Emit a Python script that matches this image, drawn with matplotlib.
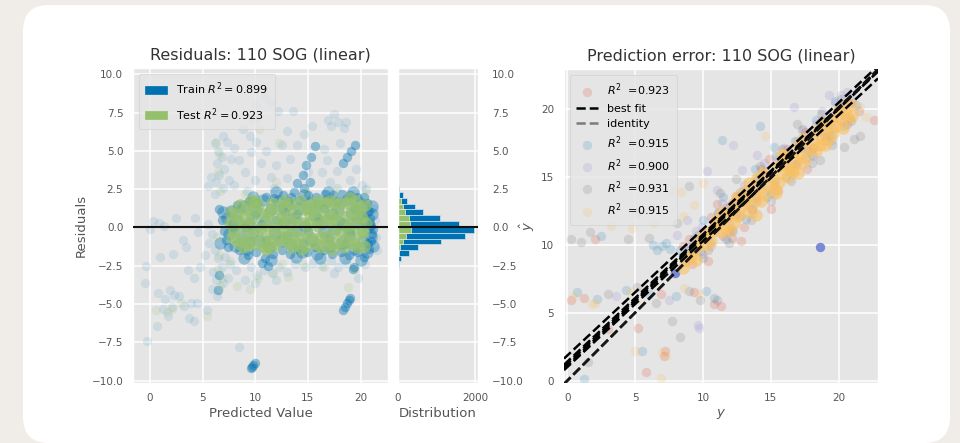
import matplotlib
matplotlib.use("Agg")
import matplotlib.pyplot as plt
from matplotlib.patches import FancyBboxPatch, Patch
from matplotlib.lines import Line2D

plt.style.use("ggplot")
plt.rcParams["font.family"] = ["DejaVu Sans"]

# ---- residuals plot data (predicted value, residual) ----
train_sparse = [
    (10.9, 8.6), (11.5, 8.1), (10.1, 8.0), (13.6, 7.6), (12.2, 7.6), (9.8, 7.0), (10.3, 7.2),
    (17.5, 7.4), (17.9, 6.9), (17.2, 6.6), (18.4, 6.5), (18.6, 6.9), (16.9, 7.0), (13.0, 6.3),
    (14.6, 6.1), (15.4, 6.6), (8.8, 6.4), (9.5, 6.0), (6.9, 6.0), (7.3, 5.6), (6.2, 5.5),
    (6.5, 5.0), (6.8, 4.6), (6.4, 4.2), (7.0, 3.8), (6.6, 3.4), (6.3, 3.0), (6.9, 2.6),
    (6.2, 2.2), (5.8, 3.3), (5.5, 2.7), (8.0, 5.2), (8.5, 4.4), (9.0, 3.6), (9.6, 4.9),
    (10.0, 3.1), (10.5, 4.2), (10.1, 5.6), (11.0, 5.0), (11.5, 3.3), (12.0, 4.1), (12.5, 5.4),
    (13.0, 3.2), (11.8, 2.6), (9.2, 2.4), (8.0, 2.8), (16.3, 3.6), (16.8, 4.4), (17.1, 3.0),
    (17.8, 3.7), (18.0, 5.5), (16.5, 5.1), (17.8, 2.6), (19.0, 3.1), (20.1, 2.8), (20.5, 2.5),
    (19.6, 3.8), (14.0, 5.4), (15.0, 3.6), (13.3, 4.5), (7.5, 3.1), (7.7, 4.5),
    (-0.3, -7.4), (-0.5, -3.6), (-0.4, -2.5), (0.0, -0.1), (0.3, 0.4), (0.9, 0.3), (1.3, 0.1),
    (2.5, 0.6), (3.1, -0.8), (4.3, 0.6), (4.6, -0.3), (0.8, -4.3), (1.4, -4.7), (1.9, -4.1),
    (2.3, -4.4), (2.1, -5.2), (1.7, -5.8), (0.7, -6.4), (1.2, -5.3), (3.2, -5.1), (3.7, -5.9),
    (4.2, -6.1), (3.9, -4.9), (4.5, -4.9), (5.4, -5.4), (2.8, -4.5), (4.2, -3.3), (4.8, -2.6),
    (3.6, -2.8), (5.2, -1.8), (5.6, -1.0), (5.9, -0.4), (5.5, 0.2), (2.2, -1.7), (1.0, -1.9),
    (3.4, -1.3), (6.2, -1.5), (6.5, -2.0), (6.8, -2.6), (6.3, -3.4), (6.9, -3.6), (6.0, -2.9),
    (7.1, -1.9), (6.4, -4.5), (5.9, -4.0), (7.4, -3.3), (7.6, -2.4), (8.5, -7.8), (8.2, -2.8),
    (9.0, -3.4), (9.6, -2.6), (10.2, -3.1), (10.8, -2.8), (11.6, -3.0), (12.3, -2.6),
    (13.0, -2.9), (13.8, -2.4), (14.7, -2.6), (15.5, -2.3), (16.3, -2.5), (17.2, -2.2),
    (17.9, -2.6), (18.6, -2.3), (19.8, -3.3), (20.4, -2.4), (10.0, -3.6), (12.0, -3.4),
    (17.5, -3.0), (21.3, 1.2), (21.5, -0.6), (21.4, 0.5), (21.6, -1.5),
]
train_dense = [
    (20.8, -1.4), (21.0, -0.9), (21.1, -0.4), (21.0, 0.1), (20.9, 0.6), (20.8, 1.1), (20.6, 1.6),
    (20.3, 2.0), (21.2, -0.1), (20.7, -1.0), (20.9, 0.3),
    (10.2, 1.6), (11.0, 2.0), (11.8, 1.9), (12.6, 2.1), (13.4, 2.0), (14.2, 1.8), (15.0, 2.1),
    (15.8, 2.0), (16.6, 2.2), (17.4, 2.1), (18.2, 2.2), (19.0, 2.1), (19.7, 2.0), (17.8, 1.7),
    (16.0, 1.5), (6.6, 1.2), (6.8, 0.5), (7.0, -0.2), (7.2, -0.8), (7.4, -1.3), (7.9, 0.0),
    (8.0, -0.1), (7.8, 0.2), (8.3, 1.5), (8.6, 1.2), (9.4, 1.7),
    (8.5, -1.5), (9.3, -1.8), (10.1, -1.6), (10.9, -2.0), (11.7, -1.7), (12.5, -1.5),
    (13.3, -1.7), (14.1, -1.4), (14.9, -1.6), (15.7, -1.3), (16.5, -1.5), (17.3, -1.7),
    (18.1, -1.6), (18.9, -1.8), (19.7, -1.6), (20.3, -1.9), (10.6, -2.3), (11.2, -2.5),
    (9.0, 0.0), (10.0, 0.8), (11.0, -0.8), (12.0, 0.5), (13.0, -0.5), (14.0, 0.9), (15.0, -0.2),
    (16.0, 0.6), (17.0, -0.7), (18.0, 0.4), (19.0, -0.3), (20.0, 0.8), (9.5, -0.9), (10.5, 0.2),
    (12.5, 1.2), (14.5, -1.0), (16.5, 1.3), (18.5, -1.1), (19.5, 1.2),
    (12.8, 1.0), (13.2, 1.7), (13.7, 2.3), (14.0, 2.9), (14.5, 3.4), (14.8, 4.1), (15.3, 4.6),
    (15.7, 5.3), (14.6, 2.6), (15.2, 3.0), (18.3, 4.2), (18.7, 4.6), (19.1, 5.0), (19.5, 5.4),
    (9.6, -9.2), (9.8, -9.0), (10.0, -8.85), (9.7, -9.1),
    (18.3, -5.4), (18.5, -5.2), (18.7, -4.95), (18.9, -4.75), (19.0, -4.6),
    (19.3, -2.7), (19.4, -2.6), (6.45, -4.1), (6.6, -3.1),
]
train_core = [
    (6.7, -1.0), (6.9, 1.0), (7.3, 0.6), (7.5, -0.4), (7.7, 1.1), (8.1, -1.2), (8.3, 0.5),
    (8.7, -0.6), (8.9, 1.4), (9.2, -1.4), (9.4, 0.3), (9.8, -0.3), (10.1, 1.1), (10.4, -0.9),
    (10.7, 1.8), (10.9, 0.4), (11.3, -1.3), (11.5, 1.2), (11.9, -0.4), (12.2, 1.7), (12.4, -0.9),
    (12.7, 0.3), (13.1, 1.5), (13.4, -1.1), (13.6, 0.6), (13.9, -0.2), (14.2, 1.3), (14.4, -1.6),
    (14.7, 0.1), (15.1, 1.6), (15.3, -0.8), (15.6, 0.8), (15.9, -1.7), (16.2, 0.3), (16.5, -0.3),
    (16.8, 1.7), (17.1, -1.2), (17.3, 0.9), (17.6, -0.1), (17.9, 1.3), (18.2, -1.0), (18.4, 0.2),
    (18.7, 1.8), (18.9, -0.5), (19.2, 0.9), (19.4, -1.4), (19.7, 0.3), (19.9, 1.6), (20.2, -0.9),
    (20.4, 0.4), (20.6, -1.6), (20.5, 1.0), (21.1, 0.9), (21.2, -1.2), (20.95, -0.6), (20.7, 0.0),
    (21.05, 1.4), (12.0, 2.3), (14.6, 2.1), (16.9, 2.3), (19.3, 2.3), (9.8, 2.0), (8.9, -2.0),
    (13.9, -1.9), (16.1, -2.0), (18.5, -2.0), (20.0, -2.1), (11.5, -2.1),
]
test_sparse = [
    (6.3, 5.6), (6.6, 4.8), (6.5, 3.6), (6.7, 2.4), (6.4, -0.6), (6.6, -1.8), (6.5, -2.7),
    (6.8, -3.3), (6.7, -3.8), (10.4, 6.4), (12.3, 5.5), (14.8, 2.4), (17.7, 2.4), (12.0, 3.0),
    (9.0, 2.2), (0.6, -5.4), (1.6, -5.5), (2.1, -5.3), (5.4, -5.8), (7.6, -2.2), (9.5, -4.0),
    (8.3, -3.8), (10.3, -3.3), (11.7, -3.0), (12.5, -2.4), (13.1, -3.2), (14.5, -2.4),
    (18.8, -3.9), (19.4, -2.7), (16.5, -2.6), (20.4, 2.3), (3.0, -4.9),
]
test_dense = [
    (7.6, 0.3), (7.8, -0.6), (8.2, 0.9), (8.4, -1.0), (8.8, 0.1), (9.1, 1.2), (9.3, -0.5),
    (9.7, 0.6), (10.0, -1.1), (10.3, 1.5), (10.5, 0.0), (10.9, -0.7), (11.2, 0.8), (11.6, 1.6),
    (11.8, -0.2), (12.1, -1.1), (12.4, 0.6), (12.8, 1.4), (13.0, -0.6), (13.3, 0.2), (13.7, 1.1),
    (14.0, -1.0), (14.3, 1.7), (14.5, 0.3), (14.9, -0.4), (15.2, 0.9), (15.5, 1.6), (15.8, -1.1),
    (16.0, 0.1), (16.4, 1.0), (16.7, -0.6), (17.0, 1.7), (17.2, 0.4), (17.6, -1.0), (17.9, 1.1),
    (18.1, -0.2), (18.5, 0.7), (18.8, 1.6), (19.0, -0.8), (19.3, 0.2), (19.6, 1.2), (19.9, -0.4),
    (20.1, 0.6), (20.3, -1.2), (20.4, 1.5), (9.6, 1.7), (13.5, -1.3), (16.2, -1.3), (18.4, -1.3),
    (11.0, -1.4), (8.9, -1.3), (12.6, -0.1), (15.0, 1.3), (17.5, 1.6), (19.5, 1.7),
    (7.7, 1.0), (8.0, -0.2), (8.3, 0.4), (8.6, 1.5), (8.7, -0.8), (9.0, 0.7), (9.4, -1.1),
    (9.5, 0.1), (9.9, 1.2), (10.2, -0.4), (10.6, 0.9), (10.8, -1.2), (11.1, 0.1), (11.4, 1.1),
    (11.6, -0.8), (12.0, 0.2), (12.2, 1.2), (12.5, -0.6), (12.9, 0.7), (13.2, -1.0), (13.4, 1.6),
    (13.6, -0.2), (13.9, 0.5), (14.2, -0.6), (14.6, 1.2), (14.8, -1.2), (15.1, 0.3), (15.4, -0.7),
    (15.7, 1.1), (15.9, 0.4), (16.2, -0.6), (16.5, 1.6), (16.6, 0.4), (16.9, -1.1), (17.1, 0.9),
    (17.4, -0.3), (17.7, 0.5), (18.0, 1.6), (18.2, -0.9), (18.6, 0.1), (18.9, -0.2), (19.1, 1.0),
    (19.4, -1.1), (19.7, 0.6), (20.0, 1.3), (20.2, -0.3), (20.5, 0.3), (10.0, 1.7), (12.7, 1.7),
    (16.0, 1.7), (19.0, 1.9), (11.4, -1.3), (14.4, -1.4), (17.3, -1.4), (19.8, -1.3),
]

# residual histogram (bin edges, counts)
hist_edges = [-2.97, -2.6, -2.22, -1.85, -1.47, -1.1, -0.72, -0.35, 0.05,
              0.42, 0.8, 1.18, 1.55, 1.93, 2.3, 2.68, 3.05]
train_counts = [10, 25, 80, 280, 530, 1120, 1730, 1980, 1590, 1080, 660, 430, 240, 130, 15, 12]
test_counts = [0, 0, 5, 17, 50, 120, 200, 330, 310, 280, 170, 120, 70, 35, 5, 0]

train_label = r"Train $R^2 = 0.899$"
test_label = r"Test $R^2 = 0.923$"

# ---- prediction error data (y, y_hat) per fold ----
fold_r2 = ["0.923", "0.915", "0.900", "0.931", "0.915"]
fold1 = [
    (8.5, 9.9), (9.2, 8.6), (10.1, 10.8), (10.8, 11.4), (11.5, 10.6), (12.0, 12.9), (12.7, 12.1),
    (13.3, 13.8), (14.0, 13.2), (14.6, 15.1), (15.2, 14.4), (15.9, 16.2), (16.5, 15.6),
    (17.1, 17.4), (17.8, 16.9), (18.4, 18.3), (19.0, 17.9), (19.6, 19.5), (20.2, 19.1),
    (20.9, 20.4), (21.5, 19.8), (17.7, 15.6), (13.0, 11.3), (11.0, 13.0), (5.2, 3.9), (0.3, 5.9),
    (1.2, 6.1), (7.1, 1.8), (5.8, 0.6), (7.2, 2.2), (6.9, 6.4), (9.3, 6.5), (10.8, 5.6),
    (2.0, 10.4), (12.8, 10.3), (15.0, 12.6), (22.6, 19.2), (11.3, 5.5), (3.0, 3.8),
    (9.0, 10.4), (9.9, 9.3), (10.6, 12.0), (11.9, 11.0), (12.4, 13.6), (13.6, 12.6), (14.3, 15.6),
    (15.5, 14.0), (16.2, 17.0), (16.9, 15.9), (17.5, 18.3), (18.1, 17.1), (18.8, 19.2),
    (19.3, 18.0), (20.0, 20.2), (20.6, 18.9), (14.9, 16.3), (12.1, 10.5), (10.4, 8.8), (13.8, 14.6),
]
fold2 = [
    (8.3, 9.6), (9.0, 9.8), (9.8, 9.5), (7.0, 9.9), (6.3, 10.0), (6.6, 9.6), (7.6, 9.7),
    (10.5, 10.2), (11.3, 11.9), (12.1, 11.1), (12.9, 13.2), (13.6, 12.6), (14.3, 14.6),
    (15.0, 13.8), (15.7, 15.9), (16.4, 15.3), (17.2, 17.1), (18.0, 16.6), (18.7, 18.6),
    (19.4, 18.1), (20.1, 19.9), (20.8, 19.3), (13.8, 15.6), (2.5, 10.6), (0.7, 6.5), (2.2, 6.0),
    (4.3, 6.7), (6.0, 6.4), (8.0, 6.2), (10.2, 6.6), (5.5, 2.2), (1.2, 0.1), (14.2, 18.7),
    (11.4, 17.7), (10.8, 6.1), (8.8, 9.4), (7.3, 10.1),
    (9.3, 10.5), (10.0, 9.0), (10.9, 11.6), (11.7, 10.4), (12.5, 12.9), (13.2, 11.9), (14.0, 14.9),
    (14.7, 13.5), (15.4, 16.5), (16.1, 15.0), (16.8, 17.6), (17.6, 16.4), (18.3, 19.2),
    (19.0, 17.6), (19.7, 20.6), (20.4, 18.7), (15.2, 17.2), (11.5, 13.5), (10.0, 11.8), (21.3, 20.3),
]
fold3 = [
    (9.5, 11.0), (10.3, 15.4), (12.9, 15.5), (11.1, 12.4), (11.9, 11.6), (12.6, 13.6),
    (13.4, 12.9), (14.1, 14.9), (14.8, 14.1), (15.5, 16.3), (16.2, 15.7), (16.9, 17.6),
    (17.6, 17.0), (18.3, 18.9), (19.0, 18.3), (19.7, 20.4), (20.4, 19.7), (20.6, 21.25),
    (19.3, 21.0), (16.7, 20.1), (8.8, 11.8), (5.2, 12.4), (9.6, 4.1), (8.1, 10.7), (3.6, 6.2),
    (7.5, 5.9), (12.2, 17.3), (10.9, 10.9), (9.7, 3.9),
    (9.1, 9.2), (9.9, 11.3), (10.6, 9.9), (11.4, 13.1), (12.2, 11.0), (13.0, 14.4), (13.7, 12.3),
    (14.5, 16.0), (15.2, 13.7), (16.0, 17.1), (16.7, 15.2), (17.4, 18.5), (18.1, 16.5),
    (18.8, 19.8), (19.5, 17.7), (20.2, 21.0), (21.0, 20.8), (14.0, 16.6), (11.0, 14.0), (13.9, 14.1),
]
fold3_dense = [(18.65, 9.85), (7.93, 7.9)]
fold4 = [
    (1.0, 10.2), (1.7, 10.9), (4.5, 10.4), (6.0, 10.5), (8.1, 11.6), (9.0, 14.3), (11.25, 13.8),
    (11.7, 12.7), (12.4, 12.2), (13.2, 14.0), (13.9, 13.4), (14.6, 15.4), (15.3, 14.7),
    (16.0, 16.5), (16.8, 15.9), (17.5, 17.8), (18.2, 17.2), (18.9, 19.0), (19.6, 18.6),
    (20.3, 20.2), (21.1, 17.8), (20.4, 17.2), (18.6, 16.2), (7.7, 4.4), (8.3, 3.2), (1.5, 1.4),
    (3.0, 6.4), (5.1, 6.9), (9.8, 5.9), (11.0, 5.9), (6.5, 5.7), (9.0, 6.6), (0.3, 10.4),
    (8.7, 8.7), (9.6, 10.7), (10.4, 9.6), (11.1, 12.3), (11.9, 10.1), (12.7, 13.9), (13.5, 11.8),
    (14.2, 15.8), (15.0, 13.2), (15.8, 17.0), (16.5, 14.7), (17.3, 18.4), (18.0, 16.0),
    (18.7, 19.6), (19.5, 17.3), (20.2, 20.7), (20.9, 19.1), (21.6, 18.0), (12.4, 14.8), (16.9, 18.9),
]
fold5 = [
    (0.5, 6.2), (1.8, 5.6), (4.8, 11.2), (3.2, 11.4), (6.4, 11.6), (7.0, 2.1), (7.3, 1.8),
    (5.0, 2.2), (8.5, 12.1), (10.0, 14.5), (14.6, 18.0), (22.0, 19.4), (21.6, 20.1), (9.7, 6.4),
    (7.8, 13.9), (8.4, 13.9), (9.3, 12.9), (6.9, 0.2), (2.0, 5.7), (4.6, 6.5), (8.6, 6.8),
]
fold5_dense = [
    (8.8, 8.9), (9.3, 9.6), (9.8, 10.4), (10.3, 10.0), (10.8, 11.2), (11.3, 10.9), (11.8, 12.0),
    (12.3, 11.6), (12.8, 12.8), (13.3, 12.4), (13.8, 13.6), (14.3, 13.2), (14.8, 14.4),
    (15.3, 14.1), (15.8, 15.3), (16.3, 15.0), (16.8, 16.2), (17.3, 16.0), (17.8, 17.0),
    (18.3, 16.9), (18.8, 17.8), (19.3, 17.8), (19.8, 18.7), (20.3, 18.6), (20.7, 19.3),
    (13.0, 13.9), (14.0, 14.9), (12.5, 13.5), (11.0, 11.8), (10.5, 10.9), (15.5, 15.8),
    (17.0, 17.3), (18.5, 18.4), (19.5, 19.2), (20.0, 19.9), (16.0, 16.6), (9.5, 8.9),
    (12.0, 11.1), (16.5, 15.6), (21.0, 19.5),
    (8.5, 8.3), (9.1, 9.1), (9.6, 9.9), (10.1, 10.6), (10.6, 10.3), (11.1, 11.6), (11.6, 11.2),
    (12.1, 12.4), (12.6, 12.1), (13.1, 13.3), (13.6, 12.9), (14.1, 14.1), (14.6, 13.7),
    (15.1, 14.9), (15.6, 14.6), (16.1, 15.8), (16.6, 15.4), (17.1, 16.7), (17.6, 16.4),
    (18.1, 17.6), (18.6, 17.3), (19.1, 18.5), (19.6, 18.2), (20.1, 19.3), (20.5, 19.8),
    (20.9, 20.3), (14.4, 15.3), (13.4, 14.5), (12.3, 13.1), (11.4, 12.4), (15.8, 16.6),
    (17.4, 17.8), (18.9, 18.9), (13.9, 12.2), (15.4, 13.8), (17.0, 15.3), (19.0, 17.3),
]
# best fit lines per fold (intercept, slope)
fit_lines = [(1.85, 0.93), (1.0, 0.927), (1.25, 0.94), (1.4, 0.935), (1.1, 0.945)]

train_color = "#0072B2"
test_color = "#94c06c"
fold_colors = ["#E24A33", "#348ABD", "#988ED5", "#777777", "#FBC15E"]
msize = 46
core_size = 80


def xy(points):
    return [p[0] for p in points], [p[1] for p in points]


fig = plt.figure(figsize=(9.6, 4.43), dpi=100, facecolor="#f0ede9")
card = FancyBboxPatch((23, 0), 927, 438, boxstyle="round,pad=0,rounding_size=26",
                      transform=None, facecolor="white", edgecolor="none", zorder=0)
fig.add_artist(card)

bottom = (443 - 383.3) / 443
height = 315 / 443
ax = fig.add_axes([133 / 960, bottom, 255 / 960, height])
hax = fig.add_axes([398 / 960, bottom, 80 / 960, height])
pax = fig.add_axes([564 / 960, bottom, 314 / 960, 314 / 443])

for a in (ax, hax, pax):
    a.tick_params(length=0, pad=7, labelsize=7.5, colors="#555555")
    a.grid(True, color="white", linewidth=1.1)
    a.set_axisbelow(True)

# residuals scatter
x, y = xy(train_sparse)
ax.scatter(x, y, s=msize, color=train_color, alpha=0.1, linewidths=0)
x, y = xy(train_dense)
ax.scatter(x, y, s=msize, color=train_color, alpha=0.4, linewidths=0)
x, y = xy(train_core)
ax.scatter(x, y, s=core_size, color=train_color, alpha=0.35, linewidths=0)
x, y = xy(test_sparse)
ax.scatter(x, y, s=msize, color=test_color, alpha=0.15, linewidths=0)
x, y = xy(test_dense)
ax.scatter(x, y, s=core_size, color=test_color, alpha=0.7, linewidths=0)
ax.axhline(0, color="#111111", linewidth=1.5, zorder=3)
ax.set_xlim(-1.6, 22.6)
ax.set_ylim(-10.17, 10.39)
ax.set_xticks([0, 5, 10, 15, 20])
ax.set_yticks([-10, -7.5, -5, -2.5, 0, 2.5, 5, 7.5, 10])
ax.set_xlabel("Predicted Value", fontsize=9.5, color="#555555", labelpad=3)
ax.set_ylabel("Residuals", fontsize=9.5, color="#555555", labelpad=3)
ax.set_title("Residuals: 110 SOG (linear)", fontsize=11.5, color="#333333", pad=6)
ax.legend(handles=[Patch(color=train_color, label=train_label),
                   Patch(color=test_color, label=test_label)],
          loc="upper left", fontsize=8, borderpad=0.6, labelspacing=0.8)

# histogram
widths = [hist_edges[i + 1] - hist_edges[i] for i in range(len(hist_edges) - 1)]
hax.barh(hist_edges[:-1], train_counts, height=widths, align="edge", color=train_color,
         edgecolor="#cfe3f0", linewidth=0.5)
hax.barh(hist_edges[:-1], test_counts, height=widths, align="edge", color=test_color,
         edgecolor="#e8f0df", linewidth=0.5)
hax.axhline(0, color="#111111", linewidth=1.5, zorder=3)
hax.set_ylim(ax.get_ylim())
hax.set_xlim(0, 2080)
hax.set_xticks([0, 2000])
hax.set_yticks(ax.get_yticks())
hax.yaxis.tick_right()
hax.tick_params(axis="y", pad=10)
hax.set_xlabel("Distribution", fontsize=9.5, color="#555555", labelpad=3)

# prediction error
folds = [fold1, fold2, fold3, fold4, fold5]
handles = []
for i, pts in enumerate(folds):
    x, y = xy(pts)
    h = pax.scatter(x, y, s=msize, color=fold_colors[i], alpha=0.2, linewidths=0,
                    label=r"$R^2$  =" + fold_r2[i])
    handles.append(h)
x, y = xy(fold3_dense)
pax.scatter(x, y, s=msize, color="#6d7fd2", alpha=0.9, linewidths=0)
x, y = xy(fold5_dense)
pax.scatter(x, y, s=core_size, color=fold_colors[4], alpha=0.6, linewidths=0)

xs = [-0.25, 22.9]
for b0, b1 in fit_lines:
    pax.plot(xs, [b0 + b1 * v for v in xs], color="black", linestyle="--", linewidth=1.8, zorder=4)
for _ in fit_lines:
    pax.plot(xs, xs, color="#111111", alpha=0.5, linestyle="--", linewidth=1.8, zorder=4)

pax.set_xlim(-0.25, 22.9)
pax.set_ylim(-0.2, 22.9)
pax.set_xticks([0, 5, 10, 15, 20])
pax.set_yticks([0, 5, 10, 15, 20])
pax.set_xlabel("$y$", fontsize=9.5, color="#555555", labelpad=3)
pax.set_ylabel(r"$\hat{y}$", fontsize=9.5, color="#555555", labelpad=3)
pax.set_title("Prediction error: 110 SOG (linear)", fontsize=11.5, color="#333333", pad=6)
best = Line2D([], [], color="black", linestyle="--", linewidth=1.8, label="best fit")
ident = Line2D([], [], color="#111111", alpha=0.5, linestyle="--", linewidth=1.8, label="identity")
pax.legend(handles=[handles[0], best, ident] + handles[1:], loc="upper left",
           fontsize=8, borderpad=0.6, labelspacing=0.5)

fig.savefig("out.png", dpi=100, facecolor=fig.get_facecolor())
